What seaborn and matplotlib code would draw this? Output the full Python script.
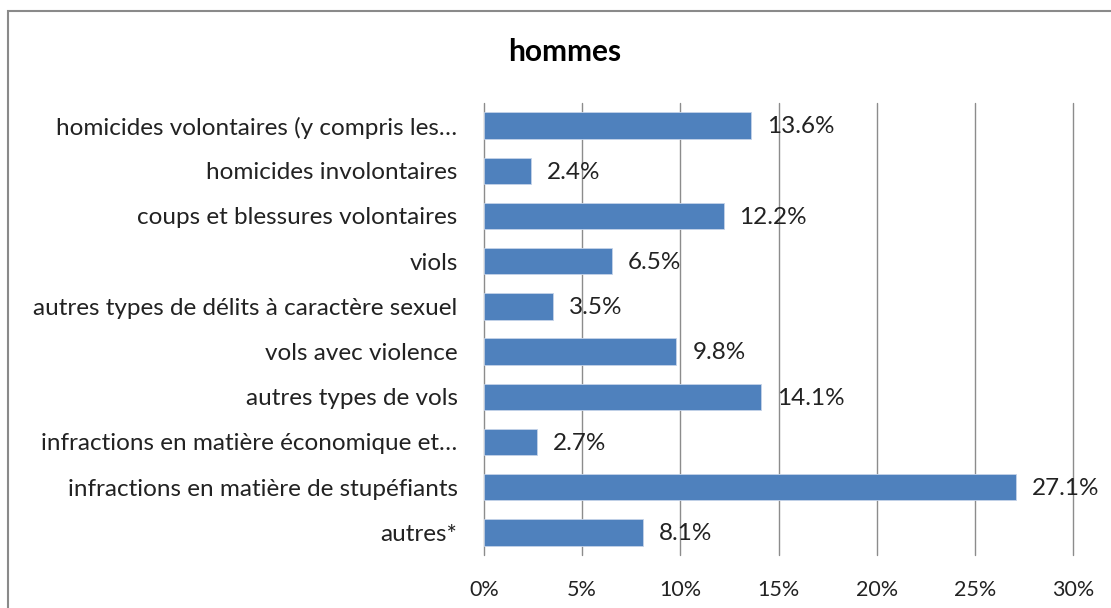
import matplotlib
matplotlib.use("Agg")
import matplotlib.pyplot as plt
import seaborn as sns
import pandas as pd
from matplotlib.patches import Rectangle

categories = [
    "homicides volontaires (y compris les…",
    "homicides involontaires",
    "coups et blessures volontaires",
    "viols",
    "autres types de délits à caractère sexuel",
    "vols avec violence",
    "autres types de vols",
    "infractions en matière économique et…",
    "infractions en matière de stupéfiants",
    "autres*",
]
values = [13.6, 2.4, 12.2, 6.5, 3.5, 9.8, 14.1, 2.7, 27.1, 8.1]
xticks = [0, 5, 10, 15, 20, 25, 30]
xticklabels = ["0%", "5%", "10%", "15%", "20%", "25%", "30%"]
title = "hommes"

sns.set_theme(style="white")
plt.rcParams["font.family"] = ["Lato", "DejaVu Sans"]

df = pd.DataFrame({"cat": categories, "val": values})

fig = plt.figure(figsize=(11.11, 6.08), dpi=100)
ax = fig.add_axes([484/1111, 1 - 555/608, (1073-484)/1111, (555-103)/608])

sns.barplot(data=df, x="val", y="cat", orient="h", color="#4f81bd",
            saturation=1, width=0.58, ax=ax, edgecolor="#c5d3e8", linewidth=0.6)

ax.set_xlim(0, 30)
ax.set_ylim(len(categories) - 0.5, -0.5)
ax.set_xticks(xticks)
ax.set_xticklabels(xticklabels)
ax.set_xlabel("")
ax.set_ylabel("")
ax.grid(axis="x", color="#8c8c8c", linewidth=1)
ax.grid(axis="y", visible=False)
ax.set_axisbelow(True)
for gl in ax.get_xgridlines():
    gl.set_clip_on(False)
for s in ax.spines.values():
    s.set_visible(False)
ax.tick_params(axis="both", length=0, colors="#222222")
ax.tick_params(axis="y", pad=19, labelsize=17.5)
ax.tick_params(axis="x", pad=18, labelsize=15.5)

for i, v in enumerate(values):
    ax.annotate(f"{v:.1f}%", xy=(v, i), xytext=(11.5, -1), textcoords="offset points",
                va="center", ha="left", fontsize=17.5, color="#222222")

fig.text(565/1111, 1 - 52/608, title, ha="center", va="center",
         fontsize=21.5, fontweight="bold", color="#000000")

fig.patches.append(Rectangle((8/1111, -0.1), 1.2, 1 - 11/608 + 0.1,
                             transform=fig.transFigure, fill=False,
                             edgecolor="#8a8a8a", linewidth=1.5))

fig.savefig("out.png", dpi=100)
